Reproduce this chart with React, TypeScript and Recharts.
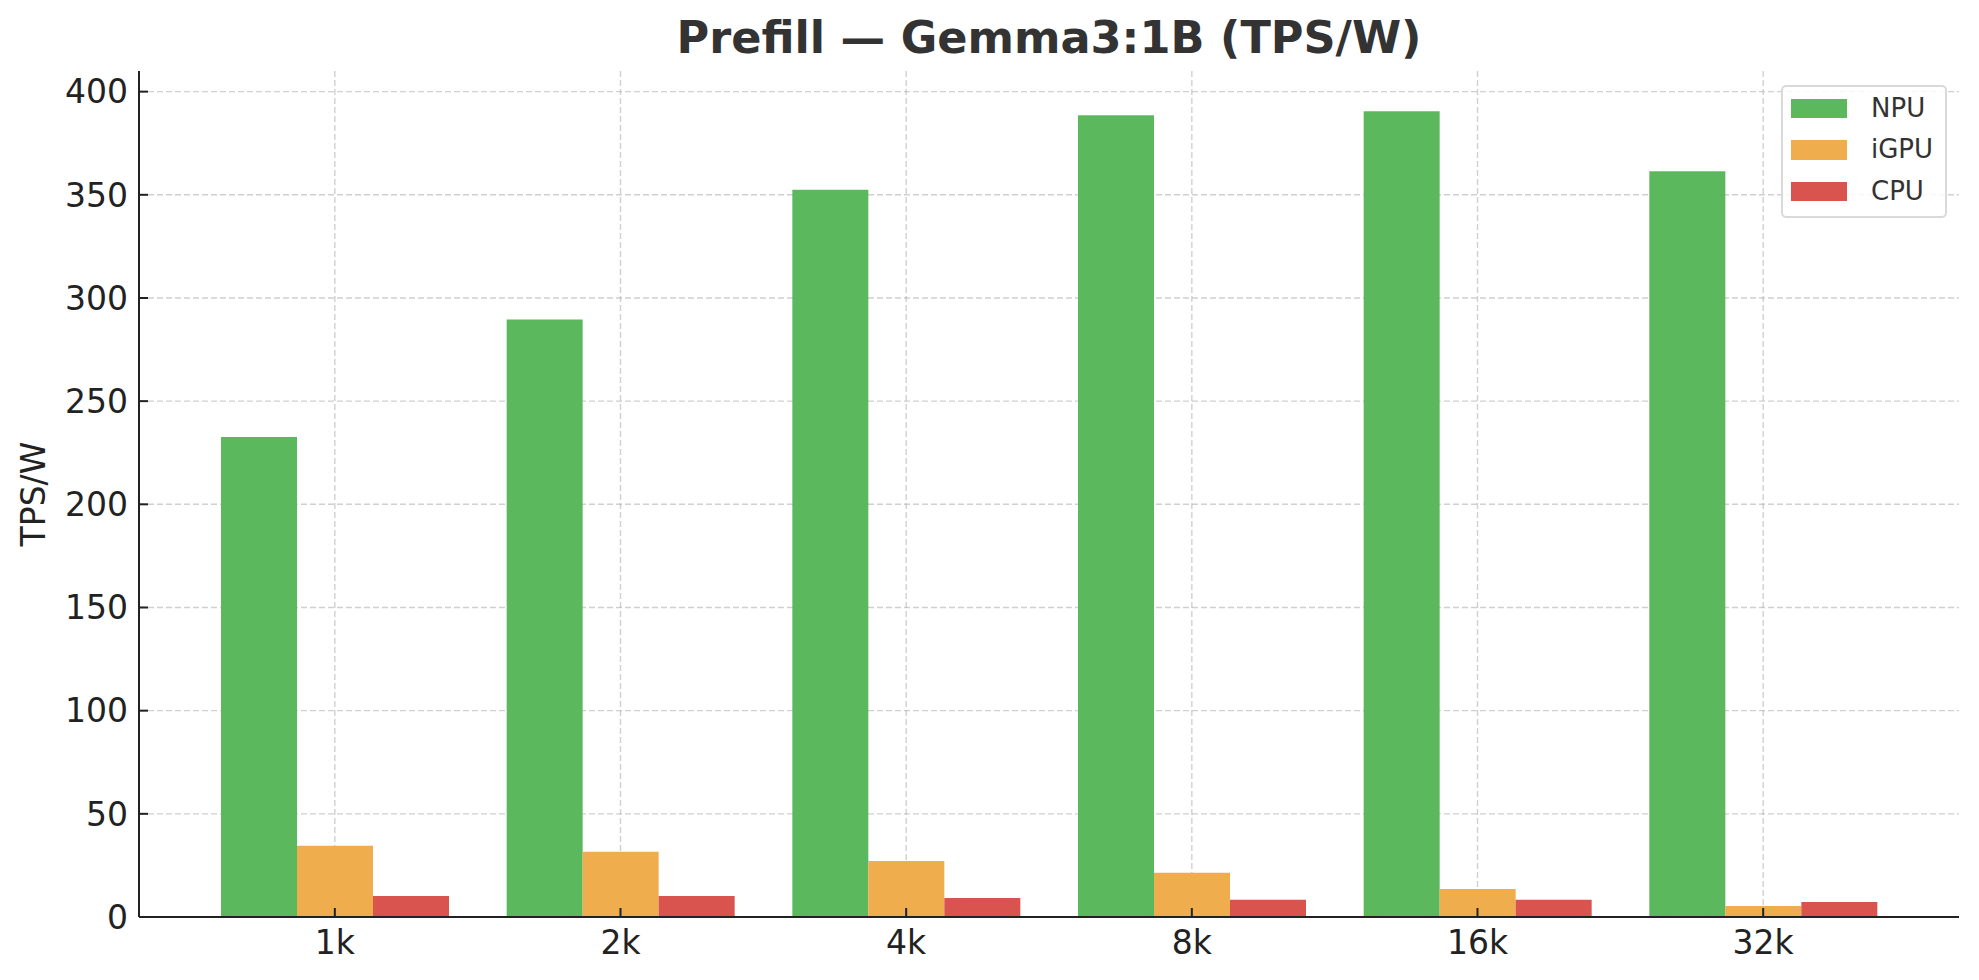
import { BarChart, Bar, XAxis, YAxis, CartesianGrid, Legend } from 'recharts';

const categories = ['1k', '2k', '4k', '8k', '16k', '32k'];
const seriesNames = ['NPU', 'iGPU', 'CPU'];
const npuValues = [232.6, 289.6, 352.5, 388.6, 390.5, 361.4];
const igpuValues = [34.5, 31.6, 27.2, 21.4, 13.6, 5.3];
const cpuValues = [10.2, 10.2, 9.2, 8.3, 8.3, 7.3];
const yTicks = [0, 50, 100, 150, 200, 250, 300, 350, 400];
const yMax = 410;
const xPad = 53;

const data = categories.map((ctx, i) => ({
  ctx,
  NPU: npuValues[i],
  iGPU: igpuValues[i],
  CPU: cpuValues[i],
}));

const FONT = '"DejaVu Sans", sans-serif';

const LegendBox = (props: any) => {
  const payload = [...(props.payload || [])].sort(
    (a: any, b: any) => seriesNames.indexOf(a.value) - seriesNames.indexOf(b.value)
  );
  return (
    <div
      style={{
        position: 'relative',
        boxSizing: 'border-box',
        width: 166,
        height: 133,
        border: '2px solid #d9d9d9',
        borderRadius: 5,
        background: 'rgba(255,255,255,0.85)',
        fontFamily: FONT,
      }}
    >
      {payload.map((entry: any, i: number) => (
        <div
          key={entry.value}
          style={{
            position: 'absolute',
            left: 8,
            top: 11.5 + i * 41.7,
            height: 19.5,
            display: 'flex',
            alignItems: 'center',
          }}
        >
          <div style={{ width: 56, height: 19.5, background: entry.color }} />
          <span style={{ marginLeft: 24, fontSize: 26, lineHeight: '19.5px', color: '#333' }}>
            {entry.value}
          </span>
        </div>
      ))}
    </div>
  );
};

// grid only at tick values (no lines on the plot border)
const hGrid = ({ yAxis, offset }: any) => {
  const sc = yAxis && yAxis.scale;
  if (typeof sc === 'function') return yTicks.map((t) => sc(t));
  return yTicks.map((t) => offset.top + offset.height * (1 - t / yMax));
};
const vGrid = ({ xAxis, offset }: any) => {
  const sc = xAxis && xAxis.scale;
  if (typeof sc === 'function' && sc.bandwidth) return categories.map((c) => sc(c) + sc.bandwidth() / 2);
  const bw = (offset.width - 2 * xPad) / categories.length;
  return categories.map((_, i) => offset.left + xPad + bw * (i + 0.5));
};

export default function App() {
  return (
    <div style={{ position: 'absolute', left: 0, top: 0, width: 1979, height: 980, background: '#fff' }}>
      <div
        style={{
          position: 'absolute',
          left: 139,
          width: 1820,
          top: 15.5,
          textAlign: 'center',
          fontFamily: FONT,
          fontWeight: 'bold',
          fontSize: 44.6,
          lineHeight: '44px',
          color: '#333',
          whiteSpace: 'nowrap',
        }}
      >
        Prefill — Gemma3:1B (TPS/W)
      </div>
      <div
        style={{
          position: 'absolute',
          left: 33,
          top: 494,
          transform: 'translate(-50%, -50%) rotate(-90deg)',
          fontFamily: FONT,
          fontSize: 33,
          lineHeight: '33px',
          color: '#222',
          whiteSpace: 'nowrap',
        }}
      >
        TPS/W
      </div>
      <BarChart
        width={1979}
        height={980}
        data={data}
        margin={{ top: 71, right: 20, bottom: 0, left: 0 }}
        barSize={76}
        barGap={0}
      >
        <Bar dataKey="NPU" fill="#5cb85c" isAnimationActive={false} />
        <Bar dataKey="iGPU" fill="#f0ad4e" isAnimationActive={false} />
        <Bar dataKey="CPU" fill="#d9534f" isAnimationActive={false} />
        <CartesianGrid
          stroke="#b0b0b0"
          strokeOpacity={0.6}
          strokeWidth={1.4}
          strokeDasharray="6 3"
          horizontalCoordinatesGenerator={hGrid}
          verticalCoordinatesGenerator={vGrid}
        />
        <XAxis
          dataKey="ctx"
          height={63}
          padding={{ left: xPad, right: xPad }}
          axisLine={{ stroke: '#222', strokeWidth: 2 }}
          tickLine={{ stroke: '#222', strokeWidth: 2 }}
          tickSize={-9}
          tickMargin={23}
          tick={{ fill: '#222', fontSize: 33, fontFamily: FONT }}
        />
        <YAxis
          width={139}
          domain={[0, yMax]}
          ticks={yTicks}
          interval={0}
          axisLine={{ stroke: '#222', strokeWidth: 2 }}
          tickLine={{ stroke: '#222', strokeWidth: 2 }}
          tickSize={-9}
          tickMargin={20}
          tick={{ fill: '#222', fontSize: 33, fontFamily: FONT }}
        />
        <Legend
          layout="vertical"
          align="center"
          verticalAlign="middle"
          content={<LegendBox />}
          wrapperStyle={{ position: 'absolute', left: 1781, top: 85, width: 166, height: 133, margin: 0 }}
        />
      </BarChart>
    </div>
  );
}
